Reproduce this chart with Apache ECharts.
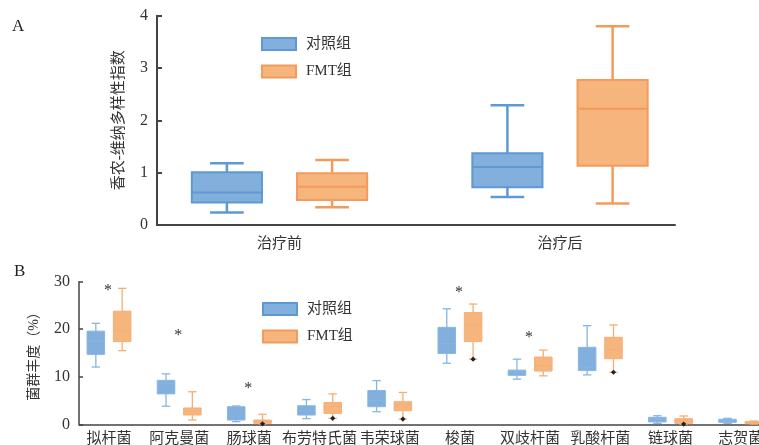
<!DOCTYPE html>
<html>
<head>
<meta charset="utf-8">
<script src="https://cdn.jsdelivr.net/npm/echarts@6/dist/echarts.min.js"></script>
<style>
html, body { margin: 0; padding: 0; background: #fff; }
#chart { width: 759px; height: 445px; }
</style>
</head>
<body>
<div id="chart"></div>
<script>
// ---- Panel A: Shannon-Wiener diversity index, box stats [min, Q1, median, Q3, max]
const phaseLabels = ['治疗前', '治疗后'];
const shannonControl = [
  [0.24, 0.43, 0.62, 1.01, 1.18],
  [0.535, 0.72, 1.11, 1.37, 2.29]
];
const shannonFmt = [
  [0.34, 0.48, 0.73, 0.99, 1.24],
  [0.41, 1.13, 2.22, 2.77, 3.80]
];
const shannonTicks = [0, 1, 2, 3, 4];

// ---- Panel B: relative abundance of genera (%), box stats [min, Q1, median, Q3, max]
const genusLabels = ['拟杆菌', '阿克曼菌', '肠球菌', '布劳特氏菌', '韦荣球菌', '梭菌', '双歧杆菌', '乳酸杆菌', '链球菌', '志贺菌'];
const abundanceControl = [
  [12.05, 14.7, 17.5, 19.6, 21.25],
  [3.8, 6.4, 8.6, 9.25, 10.6],
  [0.55, 0.9, 1.75, 3.7, 3.85],
  [1.2, 1.95, 2.85, 3.9, 5.2],
  [2.65, 3.7, 5.0, 7.1, 9.2],
  [12.85, 14.9, 17.0, 20.4, 24.3],
  [9.5, 10.3, 11.0, 11.4, 13.7],
  [10.4, 11.3, 11.9, 16.2, 20.75],
  [0.2, 0.5, 1.05, 1.47, 1.8],
  [0.2, 0.42, 0.75, 1.05, 1.25]
];
const abundanceFmt = [
  [15.5, 17.4, 19.7, 23.8, 28.6],
  [0.9, 1.95, 2.8, 3.43, 6.85],
  [0.1, 0.2, 0.55, 0.9, 2.1],
  [1.25, 2.3, 3.7, 4.6, 6.4],
  [1.1, 2.85, 4.05, 4.75, 6.7],
  [13.7, 17.4, 20.9, 23.5, 25.3],
  [10.2, 11.2, 12.3, 14.15, 15.6],
  [10.95, 13.8, 15.6, 18.3, 20.9],
  [0.05, 0.2, 0.75, 1.18, 1.75],
  [0.05, 0.12, 0.35, 0.55, 0.7]
];
// FMT groups whose lowest value is flagged with a dot
const fmtMinFlag = [0, 0, 1, 1, 1, 1, 0, 1, 1, 0];
// height (%) of the significance asterisk for each genus, null = not significant
const starHeights = [28.95, 19.4, 8.3, null, null, 28.5, 19.1, null, null, null];
const abundanceTicks = [0, 10, 20, 30];

const SERIF = '"Liberation Serif", "Noto Sans CJK SC", serif';
const TEXT = '#333';
const AXIS = '#444';

const BLUE = { fill: '#82AFDB', stroke: '#5D9AD3', soft: '#86B6E3' };
const ORANGE = { fill: '#F7B57E', stroke: '#F39B5B', soft: '#F5AE73' };

function boxData(stats, flags) {
  return stats.map((s, i) => [i].concat(s, [flags ? flags[i] : 0]));
}

// Draws one box per category, shifted left (side=-1) or right (side=+1) of the category centre.
function boxRenderer(side, fill, stroke, whiskerColor, lw, boxLw) {
  return function (params, api) {
    const i = api.value(0);
    const unit = api.size([1, 0])[0];
    const cx = api.coord([i, 0])[0] + side * 0.1875 * unit;
    const half = 0.125 * unit;
    const cap = 0.06 * unit;
    const y = k => api.coord([i, api.value(k)])[1];
    const yMin = y(1), yQ1 = y(2), yMed = y(3), yQ3 = y(4), yMax = y(5);
    const ws = { stroke: whiskerColor, lineWidth: lw };
    const children = [
      { type: 'line', shape: { x1: cx, y1: yMax, x2: cx, y2: yQ3 }, style: ws },
      { type: 'line', shape: { x1: cx, y1: yQ1, x2: cx, y2: yMin }, style: ws },
      { type: 'line', shape: { x1: cx - cap, y1: yMax, x2: cx + cap, y2: yMax }, style: ws },
      { type: 'line', shape: { x1: cx - cap, y1: yMin, x2: cx + cap, y2: yMin }, style: ws },
      { type: 'rect', shape: { x: cx - half, y: yQ3, width: 2 * half, height: Math.max(yQ1 - yQ3, 1) },
        style: { fill: fill, stroke: stroke, lineWidth: boxLw } },
      { type: 'line', shape: { x1: cx - half, y1: yMed, x2: cx + half, y2: yMed },
        style: { stroke: stroke, lineWidth: boxLw } }
    ];
    if (api.value(6)) {
      const d = 2.6;
      children.push({ type: 'polygon',
        shape: { points: [[cx, yMin - d], [cx + d, yMin], [cx, yMin + d], [cx - d, yMin]] },
        style: { fill: '#222' } });
    }
    return { type: 'group', children: children };
  };
}

function starRenderer(params, api) {
  const p = api.coord([api.value(0), api.value(1)]);
  return { type: 'text', x: p[0] - 1, y: p[1] + 4,
    style: { text: '*', font: '16px ' + SERIF, fill: TEXT, align: 'center', verticalAlign: 'middle' } };
}

const legendBase = {
  orient: 'vertical', icon: 'rect', itemWidth: 34, itemHeight: 12, itemGap: 11.5,
  selectedMode: false,
  textStyle: { fontSize: 15, fontFamily: SERIF, color: TEXT, lineHeight: 16, padding: [0, 0, 0, 5] },
  data: [
    { name: '对照组', itemStyle: { color: BLUE.fill, borderColor: BLUE.stroke, borderWidth: 2 } },
    { name: 'FMT组', itemStyle: { color: ORANGE.fill, borderColor: ORANGE.stroke, borderWidth: 2 } }
  ]
};

const yAxisBase = {
  type: 'value',
  splitLine: { show: false },
  axisLine: { show: true, onZero: false, lineStyle: { color: AXIS, width: 2 } },
  axisTick: { show: true, inside: true, length: 5, lineStyle: { color: AXIS, width: 2 } },
  axisLabel: { fontSize: 16, fontFamily: SERIF, color: TEXT, margin: 9 },
  nameLocation: 'middle',
  nameRotate: 90
};

const option = {
  animation: false,
  backgroundColor: '#fff',
  title: [
    { text: 'A', left: 7, top: 13, textStyle: { fontSize: 17, fontWeight: 'normal', fontFamily: SERIF, color: '#222' } },
    { text: 'B', left: 9, top: 258, textStyle: { fontSize: 17, fontWeight: 'normal', fontFamily: SERIF, color: '#222' } }
  ],
  legend: [
    Object.assign({}, legendBase, { left: 256, top: 31 }),
    Object.assign({}, legendBase, { left: 257, top: 296 })
  ],
  grid: [
    { left: 157, top: 15.7, width: 518, height: 209.3, containLabel: false, outerBoundsMode: 'none' },
    { left: 79, top: 281.7, width: 680, height: 142.6, containLabel: false, outerBoundsMode: 'none' }
  ],
  xAxis: [
    {
      type: 'value', gridIndex: 0, min: -0.4367, max: 1.41,
      splitLine: { show: false },
      axisLine: { show: true, onZero: false, lineStyle: { color: AXIS, width: 2 } },
      axisTick: { show: false },
      axisLabel: {
        customValues: phaseLabels.map((_, i) => i),
        formatter: v => phaseLabels[Math.round(v)],
        fontSize: 15, fontFamily: SERIF, color: TEXT, margin: 12
      }
    },
    {
      type: 'value', gridIndex: 1, min: -0.4274, max: 9.261,
      splitLine: { show: false },
      axisLine: { show: true, onZero: false, lineStyle: { color: AXIS, width: 1.5 } },
      axisTick: { show: false },
      axisLabel: {
        customValues: genusLabels.map((_, i) => i),
        formatter: v => genusLabels[Math.round(v)],
        fontSize: 15, fontFamily: SERIF, color: TEXT, margin: 7
      }
    }
  ],
  yAxis: [
    Object.assign({}, yAxisBase, {
      gridIndex: 0, min: shannonTicks[0], max: shannonTicks[shannonTicks.length - 1], interval: 1,
      name: '香农-维纳多样性指数', nameGap: 30,
      nameTextStyle: { fontSize: 15, fontFamily: SERIF, color: TEXT }
    }),
    Object.assign({}, yAxisBase, {
      gridIndex: 1, min: abundanceTicks[0], max: abundanceTicks[abundanceTicks.length - 1], interval: 10,
      axisLine: { show: true, onZero: false, lineStyle: { color: AXIS, width: 1.5 } },
      axisTick: { show: true, inside: true, length: 4, lineStyle: { color: AXIS, width: 1.5 } },
      name: '菌群丰度（%）', nameGap: 38,
      nameTextStyle: { fontSize: 14, fontFamily: SERIF, color: TEXT }
    })
  ],
  series: [
    { type: 'custom', name: '对照组', xAxisIndex: 0, yAxisIndex: 0,
      renderItem: boxRenderer(-1, BLUE.fill, BLUE.stroke, BLUE.stroke, 2.5, 2),
      encode: { x: 0, y: [1, 2, 3, 4, 5] }, data: boxData(shannonControl) },
    { type: 'custom', name: 'FMT组', xAxisIndex: 0, yAxisIndex: 0,
      renderItem: boxRenderer(1, ORANGE.fill, ORANGE.stroke, ORANGE.stroke, 2.5, 2),
      encode: { x: 0, y: [1, 2, 3, 4, 5] }, data: boxData(shannonFmt) },
    { type: 'custom', name: '对照组', xAxisIndex: 1, yAxisIndex: 1,
      renderItem: boxRenderer(-1, BLUE.fill, BLUE.soft, BLUE.soft, 1.3, 1),
      encode: { x: 0, y: [1, 2, 3, 4, 5] }, data: boxData(abundanceControl) },
    { type: 'custom', name: 'FMT组', xAxisIndex: 1, yAxisIndex: 1,
      renderItem: boxRenderer(1, ORANGE.fill, ORANGE.soft, ORANGE.soft, 1.3, 1),
      encode: { x: 0, y: [1, 2, 3, 4, 5] }, data: boxData(abundanceFmt, fmtMinFlag) },
    { type: 'custom', xAxisIndex: 1, yAxisIndex: 1, silent: true,
      renderItem: starRenderer,
      encode: { x: 0, y: 1 },
      data: starHeights.map((h, i) => [i, h]).filter(d => d[1] !== null) }
  ]
};

const chart = echarts.init(document.getElementById('chart'), null, { renderer: 'canvas' });
chart.setOption(option);
</script>
</body>
</html>
